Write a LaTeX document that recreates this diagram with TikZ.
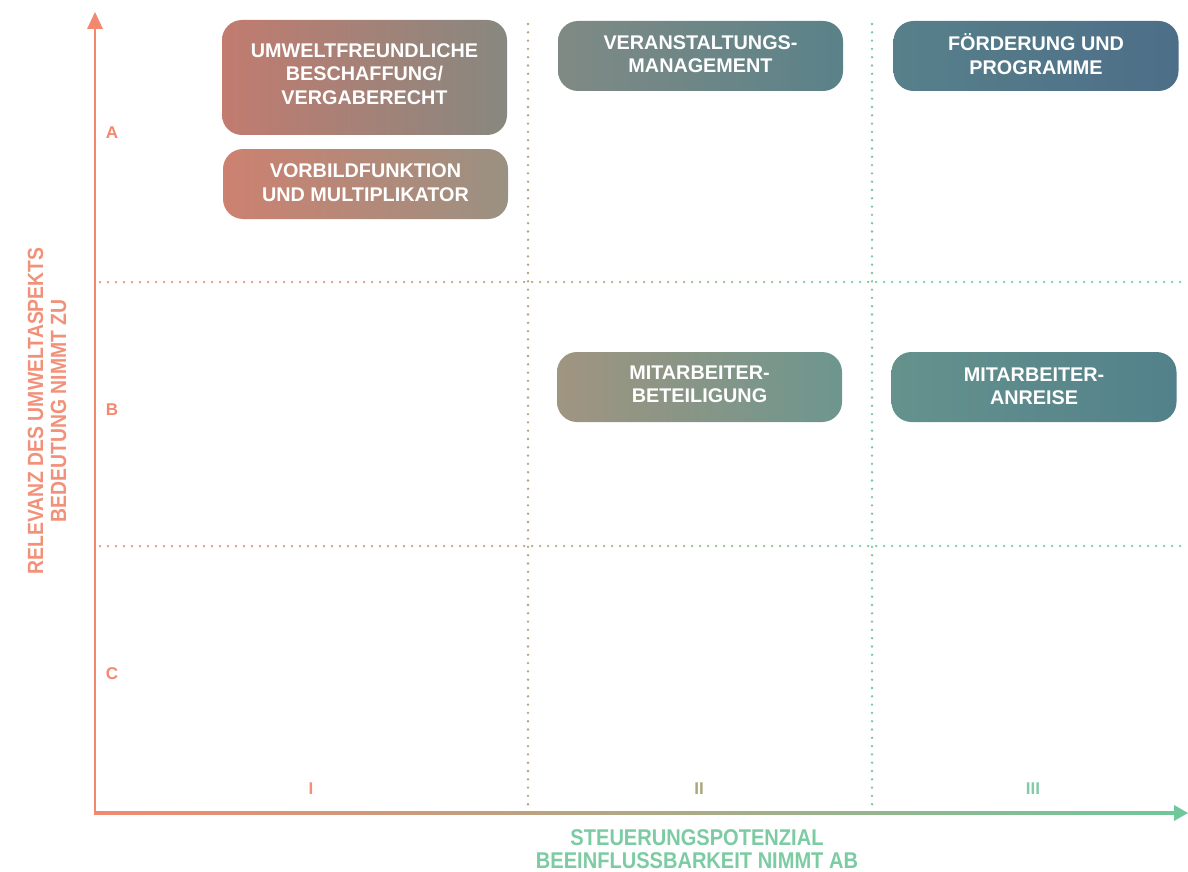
\documentclass[tikz,border=0pt]{standalone}
\usepackage{fontspec}
\newfontfamily\cf{Liberation Sans}[FakeStretch=0.88]
\newfontfamily\nf{Liberation Sans}
\definecolor{salmon}{HTML}{F2896F}
\definecolor{tanc}{HTML}{B3A27A}
\definecolor{greenc}{HTML}{6FC79A}
\definecolor{labI}{HTML}{F0907A}
\definecolor{labII}{HTML}{A9A77C}
\definecolor{labIII}{HTML}{80CBA6}
\definecolor{xtitle}{HTML}{7CCBA2}
\definecolor{ytitle}{HTML}{F2917A}
\definecolor{c1l}{HTML}{C27B6F}\definecolor{c1r}{HTML}{878880}
\definecolor{c2l}{HTML}{CD8170}\definecolor{c2r}{HTML}{9A9182}
\definecolor{c3l}{HTML}{808A84}\definecolor{c3r}{HTML}{5A8289}
\definecolor{c4l}{HTML}{57808A}\definecolor{c4r}{HTML}{4D6E88}
\definecolor{c5l}{HTML}{A09580}\definecolor{c5r}{HTML}{6D968E}
\definecolor{c6l}{HTML}{65928C}\definecolor{c6r}{HTML}{52818B}
\newcommand\boxfont{\nf\bfseries\fontsize{19.8}{23.5}\selectfont}
\newcommand\labfont{\nf\bfseries\fontsize{17}{20}\selectfont}
\newcommand\titlefont{\cf\bfseries\fontsize{22}{23}\selectfont}
\newcommand\xtitlefont{\cf\bfseries\fontsize{22.8}{22.5}\selectfont}
\begin{document}
\begin{tikzpicture}[x=1pt,y=-1pt,
  card/.style={rounded corners=20pt, minimum width=285pt, minimum height=70pt, inner sep=0pt, draw=none},
  cardtext/.style={text=white, font=\boxfont, align=center, inner sep=0pt},
  lab/.style={font=\labfont, inner sep=0pt},
  vdots/.style={line width=2.6pt, line cap=round, dash pattern=on 0pt off 8.3pt}
]
\useasboundingbox (0,0) rectangle (1188,872);
\coordinate (O) at (95,813);
\coordinate (ytop) at (95,12);
\coordinate (xend) at (1188,813);

% horizontal dotted lines with colour gradient
\foreach \yy in {282,546}{
  \foreach \xx in {100,108,...,524}{
    \pgfmathtruncatemacro\p{(\xx-95)/433*100}
    \fill[tanc!\p!salmon] (\xx,\yy) circle (1.25);
  }
  \foreach \xx in {532,540,...,868}{
    \pgfmathtruncatemacro\p{(\xx-528)/344*100}
    \fill[greenc!\p!tanc] (\xx,\yy) circle (1.25);
  }
  \foreach \xx in {876,884,...,1180}{
    \fill[greenc] (\xx,\yy) circle (1.25);
  }
}
% vertical dotted lines
\coordinate (v1t) at (528,24);
\coordinate (v1b) at (528,813);
\coordinate (v2t) at (872,24);
\coordinate (v2b) at (872,813);
\draw[vdots, tanc] (v1t) -- (v1b);
\draw[vdots, greenc] (v2t) -- (v2b);

% axes
\draw[salmon, line width=2.4pt] (O) -- (95,27);
\fill[salmon] (ytop) -- (87,29) -- (103,29) -- cycle;
\shade[left color=salmon, middle color=tanc!80!greenc, right color=greenc] (94,811.8) rectangle (1176,814.2);
\fill[greenc] (xend) -- (1174,805) -- (1174,821) -- cycle;

% axis labels
\node[lab, text=salmon] (A) at (112,133) {A};
\node[lab, text=salmon] (B) at (112,410) {B};
\node[lab, text=salmon] (C) at (112,674) {C};
\node[lab, text=labI] (I) at (311,789) {I};
\node[lab, text=labII] (II) at (699,789) {II};
\node[lab, text=labIII] (III) at (1033,789) {III};

\node[font=\titlefont, text=ytitle, rotate=90, align=center, inner sep=0pt] (ytitle) at (47,411)
  {RELEVANZ DES UMWELTASPEKTS\\BEDEUTUNG NIMMT ZU};
\node[font=\xtitlefont, text=xtitle, align=center, inner sep=0pt] (xtitle) at (697,849)
  {STEUERUNGSPOTENZIAL\\BEEINFLUSSBARKEIT NIMMT AB};

% cards
\node[card, minimum height=115pt, left color=c1l, right color=c1r] (b1) at (364.5,77.5) {};
\node[cardtext] (b1t) at ([yshift=3.5pt]b1.center) {UMWELTFREUNDLICHE\\BESCHAFFUNG/\\VERGABERECHT};
\node[card, left color=c2l, right color=c2r] (b2) at (365.5,184) {};
\node[cardtext] (b2t) at ([yshift=1.5pt]b2.center) {VORBILDFUNKTION\\UND MULTIPLIKATOR};
\node[card, left color=c3l, right color=c3r] (b3) at (700.5,56) {};
\node[cardtext] (b3t) at ([yshift=2pt]b3.center) {VERANSTALTUNGS-\\MANAGEMENT};
\node[card, left color=c4l, right color=c4r] (b4) at (1036,56) {};
\node[cardtext] (b4t) at ([yshift=2pt]b4.center) {FÖRDERUNG UND\\PROGRAMME};
\node[card, left color=c5l, right color=c5r] (b5) at (699.5,387) {};
\node[cardtext] (b5t) at ([yshift=2.5pt]b5.center) {MITARBEITER-\\BETEILIGUNG};
\node[card, left color=c6l, right color=c6r] (b6) at (1034,387) {};
\node[cardtext] (b6t) at ([yshift=0.5pt]b6.center) {MITARBEITER-\\ANREISE};
\end{tikzpicture}
\end{document}
